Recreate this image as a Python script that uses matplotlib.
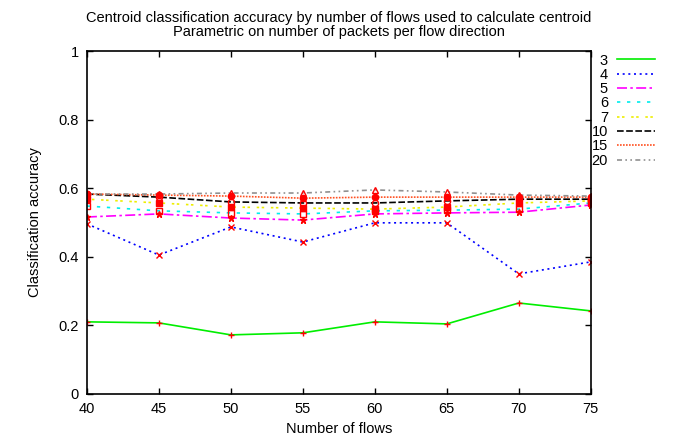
import numpy as np
import matplotlib.pyplot as plt

plt.rcParams['font.family'] = ['Liberation Sans', 'DejaVu Sans']

# number of flows used to calculate centroid
flows = [40, 45, 50, 55, 60, 65, 70, 75]

# accuracy, one series per number of packets per flow direction
acc_3 = [0.210, 0.207, 0.172, 0.178, 0.210, 0.204, 0.265, 0.242]
acc_4 = [0.496, 0.405, 0.487, 0.443, 0.499, 0.499, 0.350, 0.385]
acc_5 = [0.516, 0.525, 0.513, 0.507, 0.525, 0.528, 0.530, 0.551]
acc_6 = [0.548, 0.534, 0.528, 0.525, 0.534, 0.536, 0.539, 0.557]
acc_7 = [0.568, 0.557, 0.545, 0.542, 0.539, 0.545, 0.557, 0.563]
acc_10 = [0.583, 0.574, 0.560, 0.557, 0.557, 0.563, 0.568, 0.568]
acc_15 = [0.583, 0.580, 0.577, 0.571, 0.574, 0.574, 0.574, 0.574]
acc_20 = [0.583, 0.583, 0.586, 0.586, 0.595, 0.589, 0.580, 0.577]

labels = ['3', '4', '5', '6', '7', '10', '15', '20']
series = [acc_3, acc_4, acc_5, acc_6, acc_7, acc_10, acc_15, acc_20]

colors = ['#00ee00', '#0000ff', '#ff00ff', '#00eeee', '#eeee00', '#000000', '#ff5020', '#909090']
styles = ['-', (0, (1.2, 2.2)), (0, (6, 2, 1.5, 2)), (0, (2, 4)), (0, (1.5, 1.5, 1.5, 4)),
          (0, (4, 1.5)), (0, (1, 0.8)), (0, (3, 2, 1, 2, 1, 2))]
markers = ['+', 'x', '*', 's', 's', 'o', 'o', '^']
filled = [True, True, True, False, True, False, True, False]

fig = plt.figure(figsize=(6.79, 4.41), dpi=100)
ax = fig.add_axes([0.128, 0.107, 0.742, 0.777])

for y, lab, c, ls in zip(series, labels, colors, styles):
    ax.plot(flows, y, color=c, linestyle=ls, linewidth=1.2, label=lab)

for y, m, f in zip(series, markers, filled):
    ax.plot(flows, y, linestyle='none', marker=m, color='red', markersize=4.5,
            markerfacecolor='red' if f else 'none', markeredgewidth=1)

ax.set_xlim(40, 75)
ax.set_ylim(0, 1)
ax.set_xticks(flows)
ax.set_yticks([0, 0.2, 0.4, 0.6, 0.8, 1])
ax.set_yticklabels(['0', '0.2', '0.4', '0.6', '0.8', '1'])
ax.tick_params(direction='in', length=4.5, width=1, top=True, right=True, labelsize=10.5, pad=6)
for s in ax.spines.values():
    s.set_linewidth(1.2)

ax.set_xlabel('Number of flows', fontsize=10.5)
ax.set_ylabel('Classification accuracy', fontsize=10.5, labelpad=12)
ax.set_title('Centroid classification accuracy by number of flows used to calculate centroid\n'
             'Parametric on number of packets per flow direction', fontsize=10.5, pad=11, linespacing=1.0)

ax.legend(loc='upper left', bbox_to_anchor=(0.99, 1.01), frameon=False, markerfirst=False,
          fontsize=10.5, handlelength=2.6, labelspacing=0.02, handletextpad=0.6, borderaxespad=0.0)

plt.savefig('out.png', dpi=100)
